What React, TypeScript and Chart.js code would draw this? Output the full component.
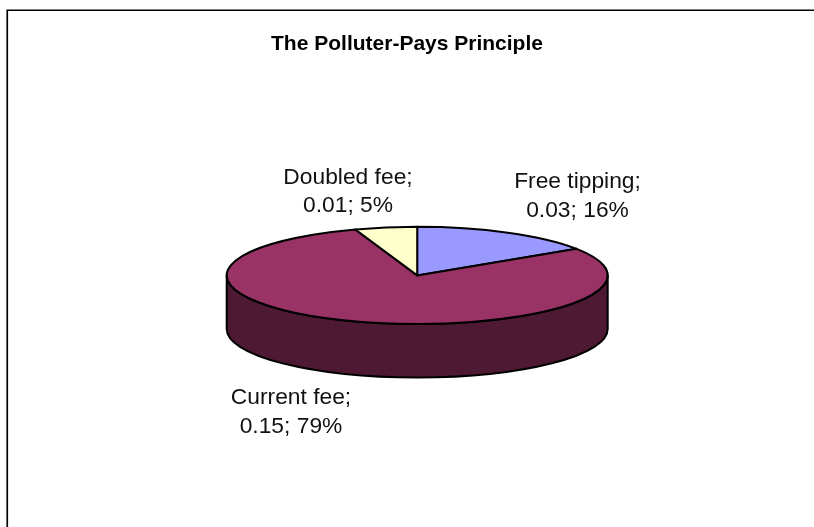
import React, { useEffect, useRef } from "react";
import { Chart, registerables } from "chart.js";

Chart.register(...registerables);

const titleText = "The Polluter-Pays Principle";
const categories = ["Free tipping", "Current fee", "Doubled fee"];
const seriesValues = [0.03, 0.15, 0.01];
const percentLabels = ["16%", "79%", "5%"];
const sliceColors = ["#9999FF", "#993366", "#FFFFCC"];
const wallColors = ["#4D4D80", "#4D1933", "#808066"];

const FONT = '"Liberation Sans", Arial, Helvetica, sans-serif';

const pie3d = {
  id: "pie3d",
  beforeDraw(chart: any) {
    const { ctx, width, height } = chart;
    ctx.save();
    ctx.strokeStyle = "#000";
    ctx.lineWidth = 1.7;
    ctx.beginPath();
    ctx.moveTo(7.25, height);
    ctx.lineTo(7.25, 10.25);
    ctx.lineTo(width, 10.25);
    ctx.stroke();
    ctx.restore();
  },
  beforeDatasetDraw(chart: any) {
    const { ctx } = chart;
    const arcs = chart.getDatasetMeta(0).data;
    const cx = 417.2;
    const cy = 275.4;
    const rx = 190.5;
    const ry = 48.6;
    const depth = 53.5;
    ctx.save();
    ctx.lineWidth = 2;
    ctx.strokeStyle = "#000";
    ctx.lineJoin = "round";
    // side wall: the part of each slice that faces the viewer
    arcs.forEach((el: any, i: number) => {
      const { startAngle, endAngle } = el.getProps(["startAngle", "endAngle"], true);
      const a0 = Math.max(startAngle, 0);
      const a1 = Math.min(endAngle, Math.PI);
      if (a1 <= a0) return;
      ctx.beginPath();
      ctx.ellipse(cx, cy, rx, ry, 0, a0, a1, false);
      ctx.lineTo(cx + rx * Math.cos(a1), cy + ry * Math.sin(a1) + depth);
      ctx.ellipse(cx, cy + depth, rx, ry, 0, a1, a0, true);
      ctx.closePath();
      ctx.fillStyle = wallColors[i];
      ctx.fill();
      ctx.stroke();
    });
    // top face
    arcs.forEach((el: any, i: number) => {
      const { startAngle, endAngle } = el.getProps(["startAngle", "endAngle"], true);
      ctx.beginPath();
      ctx.moveTo(cx, cy);
      ctx.ellipse(cx, cy, rx, ry, 0, startAngle, endAngle, false);
      ctx.closePath();
      ctx.fillStyle = sliceColors[i];
      ctx.fill();
      ctx.stroke();
    });
    // data labels
    const labelCenters = [
      [577.5, 182],
      [291, 398],
      [348, 177.5],
    ];
    ctx.fillStyle = "#111";
    ctx.font = `22.8px ${FONT}`;
    ctx.textAlign = "center";
    ctx.textBaseline = "middle";
    categories.forEach((name, i) => {
      const [x, y] = labelCenters[i];
      ctx.fillText(`${name};`, x, y);
      ctx.fillText(`${seriesValues[i]}; ${percentLabels[i]}`, x, y + 28.5);
    });
    ctx.restore();
    return false;
  },
};

export default function App() {
  const ref = useRef<HTMLCanvasElement>(null);
  useEffect(() => {
    document.body.style.margin = "0";
    const chart = new Chart(ref.current!, {
      type: "pie",
      data: {
        labels: categories,
        datasets: [{ data: seriesValues, backgroundColor: sliceColors, borderColor: "#000" }],
      },
      options: {
        responsive: false,
        animation: false,
        events: [],
        plugins: {
          legend: { display: false },
          tooltip: { enabled: false },
          title: {
            display: true,
            text: titleText,
            color: "#000",
            font: { family: FONT, size: 21, weight: "bold" },
            padding: { top: 32, bottom: 20 },
          },
        },
      },
      plugins: [pie3d],
    } as any);
    return () => chart.destroy();
  }, []);
  return <canvas ref={ref} width={814} height={527} style={{ display: "block" }} />;
}
